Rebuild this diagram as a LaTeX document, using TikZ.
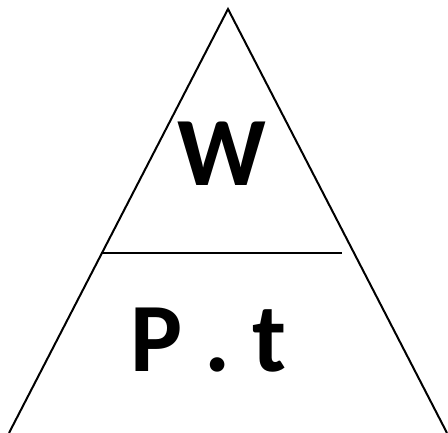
\documentclass[tikz,border=0pt]{standalone}
\usepackage{fontspec}
\setmainfont{Carlito}
\usetikzlibrary{positioning}

\begin{document}
\begin{tikzpicture}[x=1pt,y=-1pt,
  side/.style={line width=2pt},
  bigtext/.style={inner sep=0pt,anchor=base,font=\fontsize{98}{98}\selectfont\bfseries}]
\useasboundingbox (0,0) rectangle (448,433);
\coordinate (top) at (228,9);
\coordinate (left) at (9,433);
\coordinate (right) at (447,433);
\draw[side] (left) -- (top) -- (right);
\coordinate (mid-l) at (101,253);
\coordinate (mid-r) at (342,253);
\draw[side] (mid-l) -- (mid-r);
\node[bigtext] (work) at (222,186) {W};
\node[bigtext] (powtime) at (208.5,372) {P . t};
\end{tikzpicture}
\end{document}
